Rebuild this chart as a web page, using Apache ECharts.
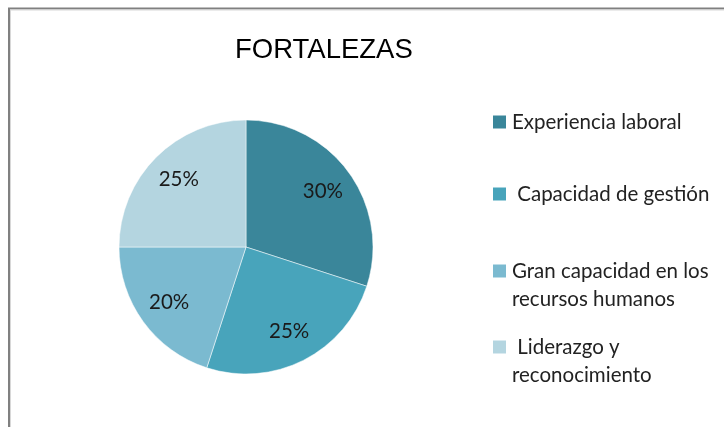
<!DOCTYPE html>
<html>
<head>
<meta charset="utf-8">
<script src="https://cdn.jsdelivr.net/npm/echarts@6/dist/echarts.min.js"></script>
<style>
html,body{margin:0;padding:0;background:#fff;}
#chart{width:724px;height:427px;}
</style>
</head>
<body>
<div id="chart"></div>
<script>
var title = 'FORTALEZAS';
var categories = ['Experiencia laboral', ' Capacidad de gestión', 'Gran capacidad en los\nrecursos humanos', ' Liderazgo y\nreconocimiento'];
var values = [30, 25, 20, 25];
var colors = ['#3A869A', '#48A4BB', '#7BBAD0', '#B4D5E0'];

var chart = echarts.init(document.getElementById('chart'));
var data = categories.map(function (c, i) { return { name: c, value: values[i] }; });

var legendTops = [108, 180, 229, 305];
var legends = categories.map(function (c, i) {
  return {
    orient: 'vertical',
    left: 491,
    top: legendTops[i],
    padding: 0,
    icon: 'rect',
    itemWidth: 15,
    itemHeight: 15,
    selectedMode: false,
    data: [c],
    formatter: function (name) {
      return name.indexOf('\n') >= 0 ? '\n' + name : name;
    },
    textStyle: {
      fontFamily: 'Lato',
      fontSize: 20.5,
      lineHeight: 28,
      color: '#222'
    }
  };
});

chart.setOption({
  animation: false,
  color: colors,
  title: {
    text: title,
    left: 230,
    top: 31,
    textStyle: { fontFamily: 'Liberation Sans', fontSize: 27.5, fontWeight: 'normal', color: '#000' }
  },
  legend: legends,
  graphic: [
    { type: 'line', shape: { x1: 9, y1: 8, x2: 9, y2: 427 }, style: { stroke: '#808080', lineWidth: 2 } },
    { type: 'line', shape: { x1: 8, y1: 8.5, x2: 724, y2: 8.5 }, style: { stroke: '#808080', lineWidth: 2 } },
    { type: 'line', shape: { x1: 10.5, y1: 10, x2: 10.5, y2: 427 }, style: { stroke: '#d8d8d8', lineWidth: 1 } },
    { type: 'line', shape: { x1: 10, y1: 10, x2: 724, y2: 10 }, style: { stroke: '#d8d8d8', lineWidth: 1 } }
  ],
  series: [
    {
      type: 'pie',
      center: [246, 247],
      radius: [0, 127],
      startAngle: 90,
      clockwise: true,
      silent: true,
      label: { show: false },
      labelLine: { show: false },
      itemStyle: { borderColor: '#ffffff', borderWidth: 0.5 },
      data: data
    },
    {
      type: 'pie',
      center: [246, 247],
      radius: [57, 127],
      startAngle: 90,
      clockwise: true,
      silent: true,
      legendHoverLink: false,
      itemStyle: { color: 'rgba(0,0,0,0)', borderWidth: 0 },
      label: {
        show: true,
        position: 'inside',
        formatter: '{d}%',
        fontFamily: 'Lato',
        fontSize: 20.5,
        color: '#1a1a1a'
      },
      labelLine: { show: false },
      data: data
    }
  ]
});
</script>
</body>
</html>
